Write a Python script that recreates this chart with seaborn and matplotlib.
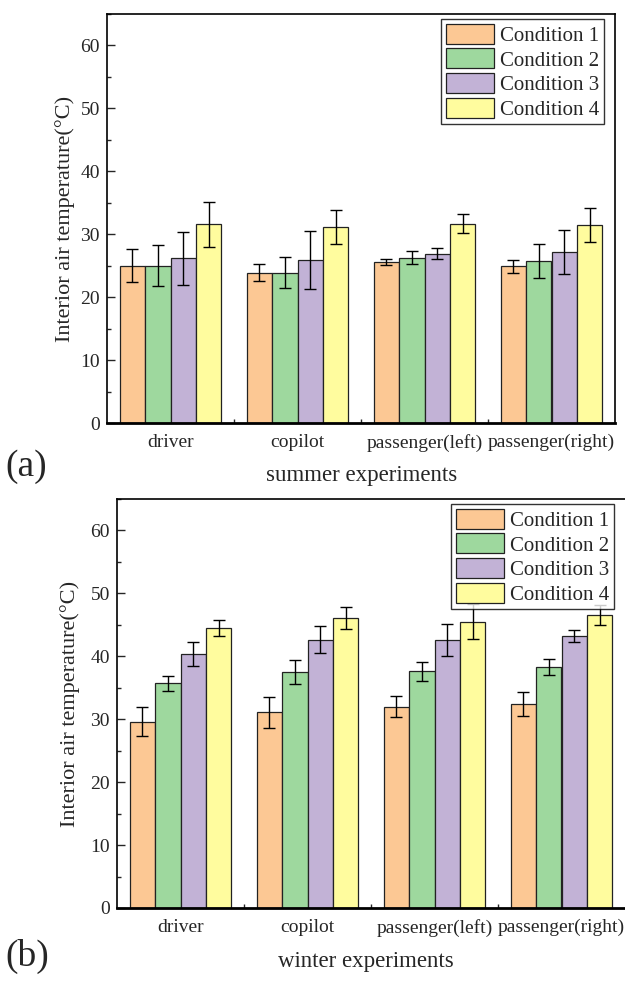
import pandas as pd
import matplotlib
matplotlib.use("Agg")
import matplotlib.pyplot as plt
from matplotlib.ticker import MultipleLocator, FixedLocator
import seaborn as sns

# -------------------------------
# Data
# -------------------------------
positions = ["driver", "copilot", "passenger(left)", "passenger(right)"]
conditions = ["Condition 1", "Condition 2", "Condition 3", "Condition 4"]
colors = ["#FCC894", "#9ED89E", "#C2B2D6", "#FFFC9E"]

summer_c1 = [25.0, 23.9, 25.6, 24.9]
summer_c2 = [25.0, 23.9, 26.3, 25.7]
summer_c3 = [26.2, 25.9, 26.9, 27.2]
summer_c4 = [31.6, 31.2, 31.7, 31.4]
summer_e1 = [2.6, 1.3, 0.45, 1.0]
summer_e2 = [3.3, 2.5, 1.0, 2.7]
summer_e3 = [4.2, 4.6, 0.9, 3.5]
summer_e4 = [3.6, 2.7, 1.55, 2.7]

winter_c1 = [29.6, 31.1, 32.0, 32.4]
winter_c2 = [35.7, 37.5, 37.6, 38.3]
winter_c3 = [40.4, 42.6, 42.6, 43.3]
winter_c4 = [44.5, 46.1, 45.5, 46.6]
winter_e1 = [2.3, 2.45, 1.65, 1.85]
winter_e2 = [1.15, 1.9, 1.45, 1.25]
winter_e3 = [1.9, 2.15, 2.5, 0.95]
winter_e4 = [1.25, 1.8, 2.8, 1.6]


def long_table(values, errors):
    rows = []
    for cond, vals, errs in zip(conditions, values, errors):
        for pos, v, e in zip(positions, vals, errs):
            rows.append({"position": pos, "condition": cond, "temp": v, "err": e})
    return pd.DataFrame(rows)


summer = long_table([summer_c1, summer_c2, summer_c3, summer_c4],
                    [summer_e1, summer_e2, summer_e3, summer_e4])
winter = long_table([winter_c1, winter_c2, winter_c3, winter_c4],
                    [winter_e1, winter_e2, winter_e3, winter_e4])

# -------------------------------
# Style
# -------------------------------
sns.set_theme(style="ticks")
plt.rcParams["font.family"] = ["Liberation Serif", "DejaVu Serif"]

fig = plt.figure(figsize=(6.25, 9.84), dpi=100)
ax_top = fig.add_axes([107 / 625, 1 - 423 / 984, 508 / 625, 409 / 984])
ax_bot = fig.add_axes([117 / 625, 1 - 908 / 984, 508 / 625, 409 / 984])


def draw_panel(ax, df, label_x, show_right=True):
    sns.barplot(data=df, x="position", y="temp", hue="condition",
                order=positions, hue_order=conditions, palette=colors,
                saturation=1, errorbar=None, width=0.8, legend=False,
                edgecolor="#222222", linewidth=0.9, ax=ax)
    # error bars on each bar, from the table
    for cond, cont in zip(conditions, ax.containers):
        errs = df[df["condition"] == cond].set_index("position").loc[positions, "err"]
        xs = [b.get_x() + b.get_width() / 2 for b in cont]
        ys = [b.get_height() for b in cont]
        ax.errorbar(xs, ys, yerr=errs.values, fmt="none", ecolor="black",
                    elinewidth=1.0, capsize=4, capthick=1.0, zorder=3)

    ax.set_xlim(-0.5, 3.5)
    ax.set_ylim(0, 65)
    ax.yaxis.set_major_locator(MultipleLocator(10))
    ax.yaxis.set_minor_locator(MultipleLocator(5))
    ax.xaxis.set_minor_locator(FixedLocator([0.5, 1.5, 2.5]))
    ax.tick_params(axis="y", which="major", direction="in", length=6,
                   width=1, labelsize=14, pad=5)
    ax.tick_params(axis="y", which="minor", direction="in", length=3, width=1)
    ax.tick_params(axis="x", which="major", length=0, labelsize=14, pad=8)
    ax.tick_params(axis="x", which="minor", direction="in", length=3, width=1)

    ax.set_xlabel("")
    ax.set_ylabel("Interior air temperature(°C)", fontsize=16)
    ax.yaxis.set_label_coords(label_x, 0.5)

    for side in ["top", "right", "left"]:
        ax.spines[side].set_visible(True)
        ax.spines[side].set_linewidth(1.2)
        ax.spines[side].set_color("black")
    ax.spines["right"].set_visible(show_right)
    ax.spines["bottom"].set_linewidth(2)
    ax.spines["bottom"].set_color("black")

    leg = ax.legend(handles=ax.containers, labels=conditions, fontsize=15,
                    loc="upper right", bbox_to_anchor=(0.978, 0.987),
                    borderaxespad=0, frameon=True, fancybox=False,
                    handlelength=2.3, handleheight=1.1, labelspacing=0.12,
                    handletextpad=0.3, borderpad=0.22)
    leg.get_frame().set_edgecolor("black")
    leg.get_frame().set_linewidth(1.0)
    leg.set_zorder(10)


draw_panel(ax_top, summer, -0.063)
draw_panel(ax_bot, winter, -0.073, show_right=False)

fig.text(362 / 625, 1 - 476 / 984, "summer experiments", fontsize=16.5,
         ha="center", va="center")
fig.text(366 / 625, 1 - 961 / 984, "winter experiments", fontsize=16.5,
         ha="center", va="center")
fig.text(5 / 625, 1 - 467 / 984, "(a)", fontsize=27, ha="left", va="center")
fig.text(5 / 625, 1 - 956 / 984, "(b)", fontsize=27, ha="left", va="center")

plt.savefig("out.png", dpi=100)
